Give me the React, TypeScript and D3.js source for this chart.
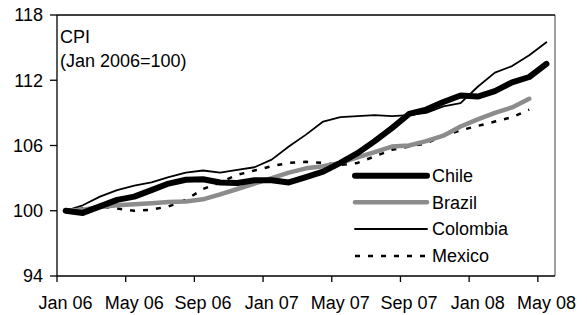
import React, { useEffect, useRef } from 'react';
import * as d3 from 'd3';

const months = [
  'Jan 06', 'Feb 06', 'Mar 06', 'Apr 06', 'May 06', 'Jun 06', 'Jul 06', 'Aug 06', 'Sep 06', 'Oct 06', 'Nov 06', 'Dec 06',
  'Jan 07', 'Feb 07', 'Mar 07', 'Apr 07', 'May 07', 'Jun 07', 'Jul 07', 'Aug 07', 'Sep 07', 'Oct 07', 'Nov 07', 'Dec 07',
  'Jan 08', 'Feb 08', 'Mar 08', 'Apr 08', 'May 08',
];
const tickLabels = ['Jan 06', 'May 06', 'Sep 06', 'Jan 07', 'May 07', 'Sep 07', 'Jan 08', 'May 08'];
const yTicks = [94, 100, 106, 112, 118];

const chile = [100, 99.8, 100.4, 101.0, 101.3, 101.9, 102.5, 102.85, 102.9, 102.6, 102.55, 102.8, 102.8, 102.6, 103.1,
  103.6, 104.4, 105.3, 106.4, 107.6, 108.9, 109.3, 110.0, 110.6, 110.5, 111.0, 111.8, 112.3, 113.5];
const brazil = [100, 100.1, 100.35, 100.5, 100.6, 100.7, 100.8, 100.85, 101.05, 101.5, 102.0, 102.5, 103.0, 103.5, 103.9,
  104.1, 104.4, 104.9, 105.4, 105.9, 106.0, 106.4, 106.9, 107.75, 108.4, 109.0, 109.5, 110.3];
const colombia = [100, 100.5, 101.3, 101.9, 102.3, 102.6, 103.1, 103.5, 103.7, 103.5, 103.75, 104.0, 104.7, 105.9, 107.0,
  108.2, 108.6, 108.7, 108.8, 108.7, 108.8, 109.0, 109.6, 109.9, 111.4, 112.7, 113.3, 114.3, 115.5];
const mexico = [100, 100.2, 100.4, 100.2, 100.0, 100.1, 100.4, 101.0, 102.0, 102.6, 103.3, 103.7, 104.1, 104.4, 104.5,
  104.4, 104.2, 104.4, 105.0, 105.6, 105.9, 106.2, 106.9, 107.4, 107.8, 108.2, 108.6, 109.3];

const seriesNames = ['Chile', 'Brazil', 'Colombia', 'Mexico'];
const seriesValues = [chile, brazil, colombia, mexico];
const seriesStyles = [
  { color: '#000000', width: 6, dash: null },
  { color: '#8c8c8c', width: 4.5, dash: null },
  { color: '#000000', width: 1.8, dash: null },
  { color: '#000000', width: 2.5, dash: '5,8' },
];

const W = 587;
const H = 315;
const FONT = '"Liberation Sans", Arial, sans-serif';
const FS = 18;

export default function App() {
  const svgRef = useRef<SVGSVGElement>(null);

  useEffect(() => {
    if (!svgRef.current) return;
    const svg = d3.select(svgRef.current);
    svg.selectAll('*').remove();

    const left = 57, right = 555, top = 15, bottom = 276;

    const x = d3.scaleBand().domain(months).range([left, right]).padding(0);
    const y = d3.scaleLinear().domain([94, 118]).range([bottom, top]);
    const cx = (i: number) => (x(months[i]) || 0) + x.bandwidth() / 2;

    // plot frame: right side gray, others black
    svg.append('line').attr('x1', right).attr('x2', right).attr('y1', top).attr('y2', bottom)
      .attr('stroke', '#808080').attr('stroke-width', 1.5);
    svg.append('line').attr('x1', left).attr('x2', right).attr('y1', top).attr('y2', top)
      .attr('stroke', '#000').attr('stroke-width', 1.3);

    // y axis
    svg.append('line').attr('x1', left).attr('x2', left).attr('y1', top).attr('y2', bottom)
      .attr('stroke', '#000').attr('stroke-width', 1.3);
    yTicks.forEach((t) => {
      svg.append('line').attr('x1', left - 7).attr('x2', left).attr('y1', y(t)).attr('y2', y(t))
        .attr('stroke', '#000').attr('stroke-width', 1.3);
      svg.append('text').attr('x', 43).attr('y', y(t)).attr('dy', '0.36em')
        .attr('text-anchor', 'end').attr('font-family', FONT).attr('font-size', FS).text(String(t));
    });

    // x axis
    svg.append('line').attr('x1', left).attr('x2', right).attr('y1', bottom).attr('y2', bottom)
      .attr('stroke', '#000').attr('stroke-width', 1.3);
    tickLabels.forEach((lab) => {
      const i = months.indexOf(lab);
      const bx = x(lab) || 0;
      svg.append('line').attr('x1', bx).attr('x2', bx).attr('y1', bottom).attr('y2', bottom + 6)
        .attr('stroke', '#000').attr('stroke-width', 1.3);
      svg.append('text').attr('x', cx(i)).attr('y', 309)
        .attr('text-anchor', 'middle').attr('font-family', FONT).attr('font-size', FS).text(lab);
    });

    // title inside plot
    svg.append('text').attr('x', 60).attr('y', 43).attr('font-family', FONT).attr('font-size', FS).text('CPI');
    svg.append('text').attr('x', 60).attr('y', 67).attr('font-family', FONT).attr('font-size', FS).text('(Jan 2006=100)');

    // lines (drawn back to front: Mexico, Colombia, Brazil, Chile)
    const line = d3.line<number>().x((_, i) => cx(i)).y((d) => y(d));
    [3, 2, 1, 0].forEach((k) => {
      const st = seriesStyles[k];
      const p = svg.append('path').datum(seriesValues[k]).attr('d', line)
        .attr('fill', 'none').attr('stroke', st.color).attr('stroke-width', st.width)
        .attr('stroke-linejoin', 'round').attr('stroke-linecap', st.dash ? 'butt' : 'round');
      if (st.dash) p.attr('stroke-dasharray', st.dash);
    });

    // legend
    const legY = [175.7, 202.3, 229, 256];
    seriesNames.forEach((name, k) => {
      const st = seriesStyles[k];
      const l = svg.append('line').attr('x1', 355).attr('x2', 427).attr('y1', legY[k]).attr('y2', legY[k])
        .attr('stroke', st.color).attr('stroke-width', st.width)
        .attr('stroke-linecap', st.dash ? 'butt' : 'round');
      if (st.dash) l.attr('stroke-dasharray', st.dash);
      svg.append('text').attr('x', 432).attr('y', legY[k]).attr('dy', '0.36em')
        .attr('font-family', FONT).attr('font-size', FS).text(name);
    });
  }, []);

  return (
    <svg
      ref={svgRef}
      width={W}
      height={H}
      style={{ position: 'absolute', left: 0, top: 0, background: '#fff' }}
      role="img"
      aria-label="CPI chart"
    />
  );
}
